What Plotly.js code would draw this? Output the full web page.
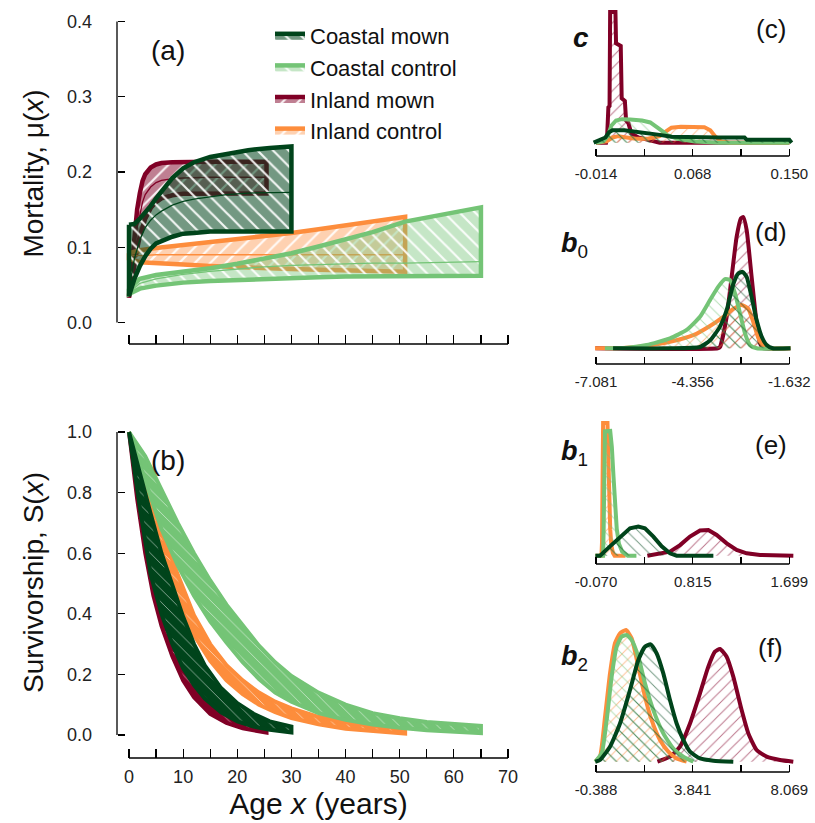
<!DOCTYPE html>
<html>
<head>
<meta charset="utf-8">
<script src="https://cdn.plot.ly/plotly-3.0.1.min.js"></script>
<style>html,body{margin:0;padding:0;background:#fff;}#chart{width:815px;height:823px;}</style>
</head>
<body>
<div id="chart"></div>
<script>
// ---------------- DATA ----------------
// Panel (a): mortality mu(x) credible bands (lo, median, hi)
const cmMuX   = [0, 1, 2, 3, 4, 5, 6, 8, 10, 12, 15, 18, 22, 26, 30];
const cmMuLo  = [0.035, 0.058, 0.075, 0.088, 0.098, 0.105, 0.109, 0.114, 0.118, 0.119, 0.121, 0.121, 0.121, 0.121, 0.121];
const cmMuMed = [0.045, 0.085, 0.110, 0.126, 0.136, 0.143, 0.148, 0.156, 0.161, 0.164, 0.167, 0.170, 0.172, 0.173, 0.173];
const cmMuHi  = [0.130, 0.131, 0.138, 0.146, 0.155, 0.165, 0.174, 0.192, 0.205, 0.213, 0.220, 0.224, 0.229, 0.232, 0.234];

const imMuX   = [0, 0.5, 1, 1.5, 2, 2.5, 3, 4, 5, 6, 8, 10, 15, 20, 25.4];
const imMuLo  = [0.033, 0.055, 0.078, 0.098, 0.115, 0.128, 0.138, 0.152, 0.160, 0.165, 0.169, 0.171, 0.1715, 0.1715, 0.1715];
const imMuMed = [0.034, 0.068, 0.100, 0.125, 0.145, 0.160, 0.170, 0.180, 0.186, 0.189, 0.191, 0.192, 0.193, 0.193, 0.193];
const imMuHi  = [0.036, 0.080, 0.120, 0.150, 0.172, 0.188, 0.197, 0.206, 0.210, 0.212, 0.213, 0.2135, 0.2135, 0.2135, 0.2135];

const icMuX   = [0, 2, 5, 10, 15, 20, 25, 30, 35, 40, 45, 51];
const icMuLo  = [0.085, 0.080, 0.078, 0.077, 0.075, 0.074, 0.072, 0.071, 0.070, 0.069, 0.068, 0.0675];
const icMuMed = [0.089, 0.089, 0.090, 0.090, 0.090, 0.090, 0.090, 0.090, 0.090, 0.090, 0.090, 0.090];
const icMuHi  = [0.092, 0.096, 0.099, 0.103, 0.106, 0.110, 0.114, 0.119, 0.124, 0.129, 0.134, 0.1405];

const ccMuX   = [0, 2, 5, 10, 15, 20, 25, 30, 35, 40, 45, 51, 58, 65];
const ccMuLo  = [0.038, 0.045, 0.049, 0.053, 0.055, 0.057, 0.058, 0.059, 0.060, 0.061, 0.061, 0.062, 0.062, 0.062];
const ccMuMed = [0.040, 0.052, 0.058, 0.064, 0.068, 0.071, 0.074, 0.076, 0.077, 0.078, 0.079, 0.079, 0.080, 0.081];
const ccMuHi  = [0.045, 0.058, 0.063, 0.067, 0.072, 0.078, 0.085, 0.092, 0.101, 0.110, 0.120, 0.134, 0.144, 0.153];

// Panel (b): survivorship S(x) bands (lo, hi)
const ccSX  = [0, 3, 6, 9, 12, 15, 18, 21, 24, 27, 30, 35, 40, 45, 50, 55, 60, 65];
const ccSHi = [1.0, 0.92, 0.81, 0.70, 0.60, 0.51, 0.43, 0.36, 0.295, 0.24, 0.195, 0.14, 0.10, 0.072, 0.055, 0.043, 0.035, 0.030];
const ccSLo = [1.0, 0.84, 0.68, 0.56, 0.46, 0.375, 0.305, 0.24, 0.185, 0.14, 0.11, 0.072, 0.05, 0.035, 0.024, 0.016, 0.010, 0.006];

const icSX  = [0, 3, 6, 9, 12, 15, 18, 21, 24, 27, 30, 35, 40, 45, 51];
const icSHi = [1.0, 0.84, 0.67, 0.53, 0.395, 0.30, 0.23, 0.18, 0.14, 0.11, 0.088, 0.06, 0.042, 0.030, 0.022];
const icSLo = [1.0, 0.80, 0.61, 0.44, 0.33, 0.245, 0.18, 0.135, 0.10, 0.075, 0.056, 0.035, 0.021, 0.012, 0.005];

const cmSX  = [0, 2, 4, 6, 8, 10, 12, 14, 17, 20, 23, 26, 30];
const cmSHi = [1.0, 0.86, 0.73, 0.60, 0.49, 0.39, 0.30, 0.23, 0.155, 0.105, 0.07, 0.045, 0.028];
const cmSLo = [1.0, 0.75, 0.53, 0.40, 0.30, 0.22, 0.165, 0.12, 0.075, 0.045, 0.028, 0.017, 0.008];

const imSX  = [0, 1.5, 3, 4.5, 6, 8, 10, 12, 15, 18, 21, 25.4];
const imSHi = [1.0, 0.85, 0.70, 0.56, 0.45, 0.33, 0.24, 0.17, 0.105, 0.065, 0.040, 0.020];
const imSLo = [1.0, 0.78, 0.60, 0.46, 0.36, 0.26, 0.18, 0.125, 0.07, 0.04, 0.022, 0.008];

const ageTicks = [0, 5, 10, 15, 20, 25, 30, 35, 40, 45, 50, 55, 60, 65, 70];
const ageTickText = ["0", "", "10", "", "20", "", "30", "", "40", "", "50", "", "60", "", "70"];
const muTicks = [0, 0.1, 0.2, 0.3, 0.4];
const muTickText = ["0.0", "0.1", "0.2", "0.3", "0.4"];
const sTicks = [0, 0.2, 0.4, 0.6, 0.8, 1.0];
const sTickText = ["0.0", "0.2", "0.4", "0.6", "0.8", "1.0"];

// Panel (c): posterior of c (relative density)
const cImX = [-0.014, -0.0055, -0.0045, -0.0035, -0.0025, -0.002, 0.0025, 0.003, 0.007, 0.0078, 0.0105, 0.0115, 0.0135, 0.016, 0.022, 0.03, 0.04, 0.15];
const cImY = [0, 0, 0.06, 0.27, 0.28, 1.0, 1.0, 0.76, 0.74, 0.34, 0.32, 0.17, 0.15, 0.07, 0.04, 0.02, 0, 0];
const cIcX = [-0.014, -0.005, 0.0, 0.005, 0.012, 0.02, 0.03, 0.04, 0.046, 0.05, 0.058, 0.07, 0.078, 0.083, 0.087, 0.092, 0.1, 0.15];
const cIcY = [0, 0.01, 0.04, 0.05, 0.04, 0.03, 0.03, 0.05, 0.09, 0.115, 0.122, 0.122, 0.118, 0.095, 0.05, 0.01, 0, 0];
const cCcX = [-0.014, -0.008, -0.004, -0.001, 0.003, 0.008, 0.015, 0.025, 0.032, 0.038, 0.042, 0.046, 0.055, 0.07, 0.09, 0.15];
const cCcY = [0, 0.01, 0.05, 0.13, 0.17, 0.18, 0.178, 0.17, 0.155, 0.12, 0.09, 0.06, 0.03, 0.01, 0, 0];
const cCmX = [-0.016, -0.01, -0.006, -0.003, 0.0, 0.01, 0.02, 0.03, 0.04, 0.05, 0.07, 0.09, 0.112, 0.114, 0.15, 0.152];
const cCmY = [0, 0.02, 0.04, 0.08, 0.095, 0.095, 0.085, 0.075, 0.06, 0.045, 0.04, 0.04, 0.04, 0.022, 0.022, 0];
const cTicks = [-0.014, 0.027, 0.068, 0.109, 0.150];
const cTickText = ["-0.014", "", "0.068", "", "0.150"];

// Panel (d): posterior of b0
const dImX = [-7.1, -3.65, -3.586, -3.398, -3.257, -3.116, -2.994, -2.928, -2.834, -2.694, -2.553, -2.459, -2.365, -1.6];
const dImY = [0, 0, 0.01, 0.24, 0.544, 0.85, 0.99, 1.0, 0.9, 0.544, 0.19, 0.04, 0, 0];
const dIcX = [-7.11, -6.217, -5.653, -4.995, -4.338, -3.868, -3.492, -3.21, -2.975, -2.787, -2.647, -2.506, -2.365, -2.18, -1.6];
const dIcY = [0, 0.005, 0.02, 0.05, 0.1, 0.17, 0.24, 0.3, 0.33, 0.3, 0.2, 0.08, 0.02, 0, 0];
const dCcX = [-6.83, -6.2, -5.653, -4.995, -4.525, -4.15, -3.868, -3.633, -3.445, -3.304, -3.163, -3.022, -2.881, -2.74, -2.55, -1.6];
const dCcY = [0, 0.005, 0.025, 0.076, 0.14, 0.24, 0.367, 0.47, 0.527, 0.52, 0.418, 0.266, 0.114, 0.025, 0, 0];
const dCmX = [-6.6, -5.0, -4.15, -3.868, -3.586, -3.398, -3.21, -3.069, -2.95, -2.834, -2.694, -2.553, -2.412, -2.271, -2.1, -1.6];
const dCmY = [0, 0, 0.01, 0.06, 0.165, 0.29, 0.49, 0.57, 0.582, 0.544, 0.39, 0.215, 0.09, 0.025, 0, 0];
const dTicks = [-7.081, -5.7185, -4.356, -2.9935, -1.632];
const dTickText = ["-7.081", "", "-4.356", "", "-1.632"];

// Panel (e): posterior of b1
const eImX = [0.4, 0.607, 0.699, 0.79, 0.882, 0.958, 1.034, 1.126, 1.217, 1.309, 1.431, 1.736];
const eImY = [0, 0.03, 0.08, 0.144, 0.19, 0.194, 0.156, 0.093, 0.043, 0.018, 0.005, 0];
const eIcX = [-0.075, -0.02, -0.015, -0.01, -0.005, 0.035, 0.04, 0.05, 0.06, 0.07, 0.085, 0.1, 0.2];
const eIcY = [0, 0, 0.1, 0.9, 1.0, 1.0, 0.8, 0.45, 0.2, 0.08, 0.02, 0, 0];
const eCcX = [-0.075, -0.005, 0.0, 0.005, 0.012, 0.06, 0.075, 0.09, 0.105, 0.12, 0.14, 0.17, 0.22, 0.3];
const eCcY = [0, 0, 0.2, 0.85, 0.937, 0.94, 0.82, 0.6, 0.4, 0.2, 0.09, 0.03, 0, 0];
const eCmX = [-0.075, -0.033, 0.058, 0.15, 0.241, 0.317, 0.378, 0.455, 0.531, 0.607, 0.668, 1.004];
const eCmY = [0, 0, 0.07, 0.144, 0.207, 0.22, 0.207, 0.144, 0.07, 0.018, 0, 0];
const eTicks = [-0.070, 0.3725, 0.815, 1.257, 1.699];
const eTickText = ["-0.070", "", "0.815", "", "1.699"];

// Panel (f): posterior of b2
const fImX = [2.3, 2.849, 3.286, 3.724, 4.161, 4.526, 4.817, 5.036, 5.328, 5.619, 5.984, 6.276, 6.64, 7.077, 7.66, 8.243];
const fImY = [0, 0.038, 0.114, 0.29, 0.519, 0.722, 0.835, 0.856, 0.797, 0.646, 0.392, 0.215, 0.089, 0.038, 0.013, 0];
const fIcX = [-0.42, -0.213, 0.006, 0.224, 0.443, 0.662, 0.924, 1.172, 1.464, 1.755, 2.047, 2.411, 2.776, 3.14, 3.578];
const fIcY = [0, 0.04, 0.34, 0.67, 0.9, 0.975, 1.0, 0.937, 0.72, 0.494, 0.316, 0.165, 0.076, 0.025, 0];
const fCcX = [-0.42, -0.14, 0.079, 0.297, 0.516, 0.735, 0.953, 1.172, 1.464, 1.755, 2.12, 2.557, 2.995, 3.432, 3.87];
const fCcY = [0, 0.063, 0.316, 0.646, 0.873, 0.95, 0.962, 0.924, 0.797, 0.595, 0.392, 0.215, 0.1, 0.038, 0];
const fCmX = [-0.42, -0.213, 0.224, 0.662, 1.099, 1.464, 1.755, 2.003, 2.266, 2.557, 2.849, 3.14, 3.432, 3.724, 4.161, 4.744, 5.619];
const fCmY = [0, 0.013, 0.114, 0.29, 0.544, 0.772, 0.873, 0.891, 0.823, 0.671, 0.468, 0.29, 0.165, 0.076, 0.025, 0.008, 0];
const fTicks = [-0.388, 1.7265, 3.841, 5.955, 8.069];
const fTickText = ["-0.388", "", "3.841", "", "8.069"];

const groupNames = ["Coastal mown", "Coastal control", "Inland mown", "Inland control"];

// ---------------- STYLE / LAYOUT ----------------
const W = 815, H = 823;
const FONT = "Liberation Sans, Arial, sans-serif";
const CM = "#00441b", CC = "#74c476", IM = "#800026", IC = "#fd8d3c";
const px = v => v / W;
const py = v => 1 - v / H;
const lin = (v0, p0, v1, p1) => q => v0 + (q - p0) * (v1 - v0) / (p1 - p0);

const traces = [];

function band(xs, lo, hi, color, fillc, shape, xa, ya, opts) {
  const x = xs.concat(xs.slice().reverse());
  const y = hi.concat(lo.slice().reverse());
  x.push(xs[0]); y.push(hi[0]);
  return Object.assign({
    type: "scatter", mode: "lines", x: x, y: y, xaxis: xa, yaxis: ya,
    fill: "toself", fillcolor: fillc,
    fillpattern: {shape: shape, bgcolor: fillc, fgcolor: "rgba(255,255,255,0.9)", size: 11, solidity: 0.2, fillmode: "replace"},
    line: {color: color, width: 4.5}, hoverinfo: "skip", showlegend: false
  }, opts || {});
}
function medLine(xs, ys, color, xa, ya) {
  return {type: "scatter", mode: "lines", x: xs, y: ys, xaxis: xa, yaxis: ya,
    line: {color: color, width: 1.3}, hoverinfo: "skip", showlegend: false};
}

// Panel (a) order: inland mown, inland control, coastal control, coastal mown
traces.push(band(imMuX, imMuLo, imMuHi, IM, "rgba(128,0,38,0.5)", "/", "x", "y", {name: groupNames[2], showlegend: true, legendrank: 3}));
traces.push(medLine(imMuX, imMuMed, IM, "x", "y"));
traces.push(band(icMuX, icMuLo, icMuHi, IC, "rgba(253,141,60,0.4)", "/", "x", "y", {name: groupNames[3], showlegend: true, legendrank: 4}));
traces.push(medLine(icMuX, icMuMed, IC, "x", "y"));
traces.push(band(ccMuX, ccMuLo, ccMuHi, CC, "rgba(116,196,118,0.42)", "\\", "x", "y", {name: groupNames[1], showlegend: true, legendrank: 2}));
traces.push(medLine(ccMuX, ccMuMed, CC, "x", "y"));
traces.push(band(cmMuX, cmMuLo, cmMuHi, CM, "rgba(0,68,27,0.55)", "\\", "x", "y", {name: groupNames[0], showlegend: true, legendrank: 1}));
traces.push(medLine(cmMuX, cmMuMed, CM, "x", "y"));

// Panel (b)
function sband(xs, lo, hi, color) {
  const t = band(xs, lo, hi, color, color, "\\", "x2", "y2");
  t.line.width = 4;
  t.fillpattern = {shape: "\\", bgcolor: color, fgcolor: "rgba(255,255,255,0.7)", size: 9, solidity: 0.08, fillmode: "replace"};
  return t;
}
traces.push(sband(imSX, imSLo, imSHi, IM));
traces.push(sband(icSX, icSLo, icSHi, IC));
traces.push(sband(ccSX, ccSLo, ccSHi, CC));
traces.push(sband(cmSX, cmSLo, cmSHi, CM));

// Density panels
function dens(xs, ys, color, shape, xa, ya, smooth) {
  return {type: "scatter", mode: "lines", x: xs, y: ys, xaxis: xa, yaxis: ya,
    fill: "tozeroy", fillcolor: "rgba(0,0,0,0)",
    fillpattern: {shape: shape, bgcolor: "rgba(0,0,0,0)", fgcolor: color, fgopacity: 0.55, size: 8, solidity: 0.12, fillmode: "replace"},
    line: {color: color, width: 4, shape: smooth ? "spline" : "linear", smoothing: 0.5},
    hoverinfo: "skip", showlegend: false};
}
const dsets = [
  ["x3", "y3", [cImX, cImY], [cIcX, cIcY], [cCcX, cCcY], [cCmX, cCmY], false],
  ["x4", "y4", [dImX, dImY], [dIcX, dIcY], [dCcX, dCcY], [dCmX, dCmY], true],
  ["x5", "y5", [eImX, eImY], [eIcX, eIcY], [eCcX, eCcY], [eCmX, eCmY], false],
  ["x6", "y6", [fImX, fImY], [fIcX, fIcY], [fCcX, fCcY], [fCmX, fCmY], true]
];
dsets.forEach(d => {
  traces.push(dens(d[2][0], d[2][1], IM, "/", d[0], d[1], d[6]));
  traces.push(dens(d[3][0], d[3][1], IC, "/", d[0], d[1], d[6]));
  traces.push(dens(d[4][0], d[4][1], CC, "\\", d[0], d[1], d[6]));
  traces.push(dens(d[5][0], d[5][1], CM, "\\", d[0], d[1], d[6]));
});

// Axes geometry
const ax = lin(0, 129, 70, 508);
const mainXRange = [ax(119), ax(518)];
const ya = lin(0, 322.5, 0.4, 21.5);
const yb = lin(0, 735, 1.0, 432);

const baseTick = {ticks: "inside", tickcolor: "#000", tickwidth: 1.2, showline: false, showgrid: false, zeroline: false, fixedrange: true};
const layout = {
  width: W, height: H, margin: {l: 0, r: 0, t: 0, b: 0},
  paper_bgcolor: "#fff", plot_bgcolor: "rgba(0,0,0,0)",
  font: {family: FONT, color: "#111"},
  showlegend: true,
  legend: {x: px(270), y: py(15), xanchor: "left", yanchor: "top", bgcolor: "rgba(0,0,0,0)",
    font: {size: 22, family: FONT, color: "#111"}, itemwidth: 30, tracegroupgap: 0, traceorder: "normal"},
  xaxis: Object.assign({}, baseTick, {domain: [px(119), px(518)], range: mainXRange, anchor: "free", position: py(344),
    tickvals: ageTicks, ticktext: ageTicks.map(() => ""), ticklen: 9, showticklabels: false}),
  yaxis: Object.assign({}, baseTick, {domain: [py(335), py(12)], range: [ya(335), ya(12)], anchor: "free", position: px(117),
    tickvals: muTicks, ticktext: muTickText, ticklen: 7, tickfont: {size: 18, color: "#222"}, ticklabelstandoff: 25,
    title: {text: "Mortality, \u03bc(<i>x</i>)", font: {size: 28, color: "#111"}, standoff: 14}}),
  xaxis2: Object.assign({}, baseTick, {domain: [px(119), px(518)], range: mainXRange, anchor: "free", position: py(758),
    tickvals: ageTicks, ticktext: ageTickText, ticklen: 9, tickfont: {size: 18, color: "#222"}, ticklabelstandoff: 6,
    title: {text: "Age <i>x</i> (years)", font: {size: 30, color: "#111"}, standoff: 2}}),
  yaxis2: Object.assign({}, baseTick, {domain: [py(745), py(420)], range: [yb(745), yb(420)], anchor: "free", position: px(117),
    tickvals: sTicks, ticktext: sTickText, ticklen: 7, tickfont: {size: 18, color: "#222"}, ticklabelstandoff: 25,
    title: {text: "Survivorship, S(<i>x</i>)", font: {size: 28, color: "#111"}, standoff: 14}}),
  shapes: [], annotations: []
};

// Right panels
const rightPanels = [
  {xa: "xaxis3", ya: "yaxis3", x: "x3", y: "y3", ticks: cTicks, text: cTickText, p0: 142.7, pt: 12, axis: 156},
  {xa: "xaxis4", ya: "yaxis4", x: "x4", y: "y4", ticks: dTicks, text: dTickText, p0: 348.3, pt: 217, axis: 364},
  {xa: "xaxis5", ya: "yaxis5", x: "x5", y: "y5", ticks: eTicks, text: eTickText, p0: 555.7, pt: 423, axis: 564},
  {xa: "xaxis6", ya: "yaxis6", x: "x6", y: "y6", ticks: fTicks, text: fTickText, p0: 761.7, pt: 630, axis: 772}
];
rightPanels.forEach(p => {
  const t0 = p.ticks[0], t4 = p.ticks[p.ticks.length - 1];
  const rx = lin(t0, 596, t4, 789.3);
  const ry = lin(0, p.p0, 1, p.pt);
  layout[p.xa] = Object.assign({}, baseTick, {domain: [px(588), px(798)], range: [rx(588), rx(798)], anchor: "free", position: py(p.axis),
    tickvals: p.ticks, ticktext: p.text, ticklen: 7, tickfont: {size: 15, color: "#222"}, ticklabelstandoff: 7});
  layout[p.ya] = {domain: [py(p.p0 + 10), py(p.pt - 10)], range: [ry(p.p0 + 10), ry(p.pt - 10)], anchor: p.x, visible: false, fixedrange: true};
  layout.shapes.push({type: "line", xref: p.x, yref: "paper", x0: t0, x1: t4, y0: py(p.axis), y1: py(p.axis), line: {color: "#000", width: 1.3}});
});

// R-style axis lines spanning the tick range
layout.shapes.push({type: "line", xref: "x", yref: "paper", x0: ageTicks[0], x1: ageTicks[ageTicks.length - 1], y0: py(344), y1: py(344), line: {color: "#000", width: 1.3}});
layout.shapes.push({type: "line", xref: "x2", yref: "paper", x0: ageTicks[0], x1: ageTicks[ageTicks.length - 1], y0: py(758), y1: py(758), line: {color: "#000", width: 1.3}});
layout.shapes.push({type: "line", xref: "paper", yref: "y", x0: px(117), x1: px(117), y0: muTicks[0], y1: muTicks[muTicks.length - 1], line: {color: "#000", width: 1.3}});
layout.shapes.push({type: "line", xref: "paper", yref: "y2", x0: px(117), x1: px(117), y0: sTicks[0], y1: sTicks[sTicks.length - 1], line: {color: "#000", width: 1.3}});

function ann(text, x, y, size) {
  layout.annotations.push({text: text, x: px(x), y: py(y), xref: "paper", yref: "paper", showarrow: false,
    xanchor: "center", yanchor: "middle", font: {size: size, family: FONT, color: "#111"}});
}
ann("(a)", 168, 50, 28);
ann("(b)", 168, 461, 28);
ann("(c)", 771, 29, 26);
ann("(d)", 771, 232, 26);
ann("(e)", 771, 445, 26);
ann("(f)", 770, 648, 26);
ann("<b><i>c</i></b>", 581, 38, 28);
ann("<b><i>b</i></b><sub>0</sub>", 574, 245, 27);
ann("<b><i>b</i></b><sub>1</sub>", 574, 453, 27);
ann("<b><i>b</i></b><sub>2</sub>", 574, 658, 27);

Plotly.newPlot("chart", traces, layout, {displayModeBar: false, staticPlot: true});
</script>
</body>
</html>
